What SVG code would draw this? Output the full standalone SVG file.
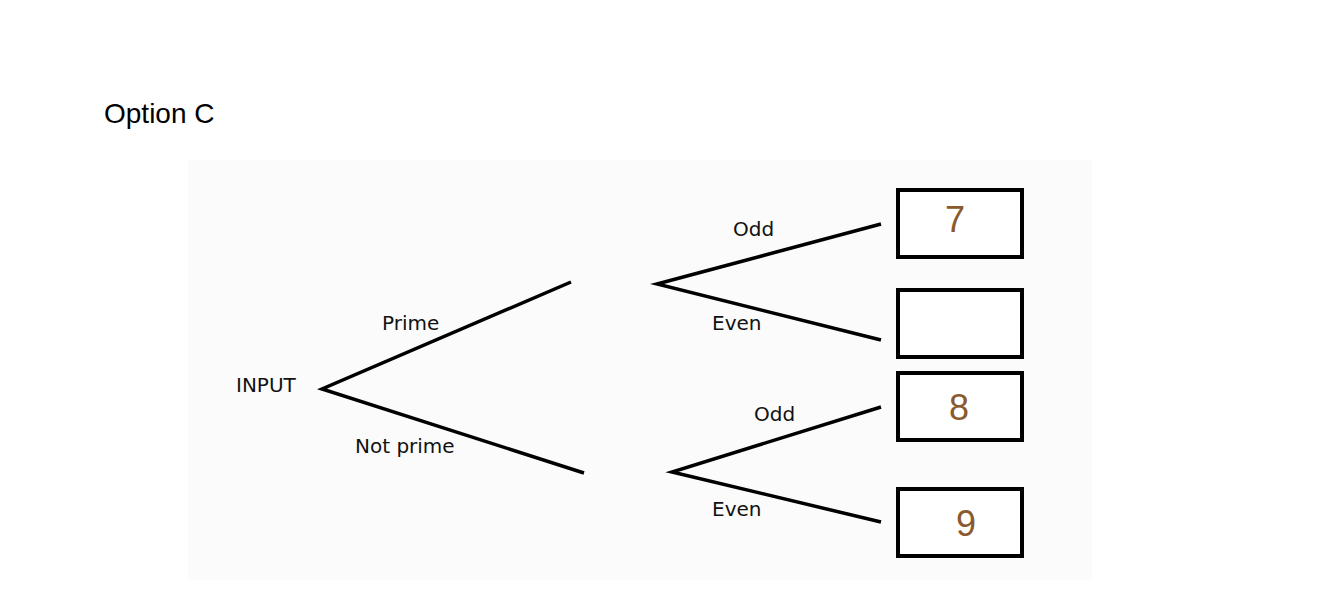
<svg xmlns="http://www.w3.org/2000/svg" width="1323" height="603" viewBox="0 0 1323 603">
<style>
.l{stroke:#000;stroke-width:3.5;fill:none;stroke-linecap:butt}
.b{stroke:#000;stroke-width:4;fill:#fff}
.t{font-family:"DejaVu Sans",sans-serif;font-size:20px;fill:#111}
.n{font-family:"Liberation Sans",Arial,sans-serif;font-size:36px;fill:#8a5a2e}
</style>
<rect width="1323" height="603" fill="#fff"/>
<rect x="188" y="160" width="904" height="420" fill="#fbfbfb"/>
<text x="104" y="123" font-family="Liberation Sans,Arial,sans-serif" font-size="28" fill="#000">Option C</text>
<g id="connectors">
<path class="l" d="M571 282 L322 389 L584 473"/>
<path class="l" d="M881 224 L657 284 L881 340"/>
<path class="l" d="M881 407 L672 472 L881 522"/>
</g>
<g id="input"><text class="t" x="236" y="392">INPUT</text></g>
<g id="labels">
<text class="t" x="382" y="330">Prime</text>
<text class="t" x="355" y="453">Not prime</text>
<text class="t" x="733" y="236">Odd</text>
<text class="t" x="712" y="330">Even</text>
<text class="t" x="754" y="421">Odd</text>
<text class="t" x="712" y="516">Even</text>
</g>
<g id="box1"><rect class="b" x="898" y="190" width="124" height="67"/><text class="n" x="945" y="232">7</text></g>
<g id="box2"><rect class="b" x="898" y="290" width="124" height="67"/></g>
<g id="box3"><rect class="b" x="898" y="373" width="124" height="67"/><text class="n" x="949" y="420">8</text></g>
<g id="box4"><rect class="b" x="898" y="489" width="124" height="67"/><text class="n" x="956" y="536">9</text></g>
</svg>
